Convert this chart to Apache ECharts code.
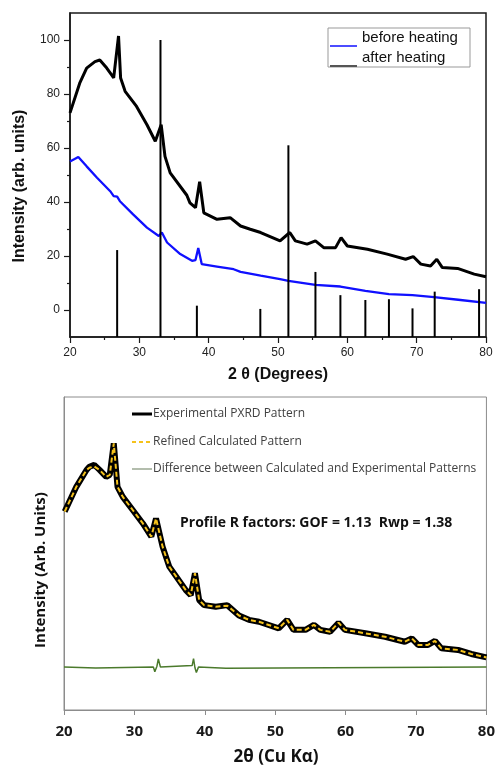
<!DOCTYPE html>
<html>
<head>
<meta charset="utf-8">
<script src="https://cdn.jsdelivr.net/npm/echarts@6/dist/echarts.min.js"></script>
<style>
  html, body { margin: 0; padding: 0; background: #fff; }
  #chart { width: 498px; height: 765px; }
</style>
</head>
<body>
<div id="chart"></div>
<script>
// top panel: 2θ vs intensity, before / after heating + reference sticks
const beforeHeating = [
  [20, 55], [21.2, 56.7], [22.4, 53.2], [23.9, 49], [25.8, 44], [26.3, 42.2], [26.8, 42],
  [27.2, 40.3], [29.1, 35.4], [31.1, 30.5], [32.8, 27.4], [33.25, 28.7], [34, 25],
  [35.9, 20.7], [37.6, 18.2], [38.1, 18.5], [38.5, 23], [39, 17], [41.2, 16.1], [43.6, 15.1],
  [44.6, 14.1], [47.5, 12.7], [50.3, 11.4], [51.5, 10.8], [55.4, 9.3], [59, 8.7],
  [62.6, 7.1], [66, 5.9], [69.4, 5.5], [72.5, 4.8], [76, 3.8], [80, 2.6]
];
const afterHeating = [
  [20, 73], [21.4, 84], [22.4, 89.6], [23.6, 92], [24.3, 92.6], [25.3, 89.6], [26.0, 87.1],
  [26.3, 86], [27.0, 101.5], [27.3, 85.9], [27.95, 81], [29.6, 75.4], [31.1, 68.6],
  [32.3, 62.5], [33.15, 68.6], [33.7, 56.9], [34.45, 50.8], [36.85, 42.5], [37.3, 39.7],
  [38.1, 37.9], [38.7, 47.5], [39.3, 36], [41.2, 33.6], [43.1, 34.2], [44.6, 31.1],
  [46, 29.9], [47.5, 28.7], [50.3, 25.6], [51.7, 28.7], [52.5, 25.6], [54.2, 24.4],
  [55.4, 25.6], [56.6, 23.1], [58.3, 23.1], [59.1, 26.8], [60, 23.7], [62.9, 22.5],
  [65.75, 20.7], [68.4, 18.8], [69.5, 19.8], [70.6, 17], [72, 16.3], [72.9, 18.8],
  [73.7, 15.7], [75.9, 15.4], [78.3, 13.3], [80, 12.3]
];
const refSticks = [
  [26.8, 22.2], [33.05, 100], [38.3, 1.6], [47.45, 0.4], [51.5, 61], [55.4, 14.1],
  [59.0, 5.5], [62.6, 3.7], [66.0, 4], [69.4, 0.6], [72.6, 6.8], [79.0, 7.7]
];
const topYMin = -10;
const topYMax = 110;
const topYLabels = [0, 20, 40, 60, 80, 100];
const topYMinor = [10, 30, 50, 70, 90];

// bottom panel: Rietveld fit (relative intensity)
const experimentalPattern = [
  [20.1, 63.4], [21.75, 71.3], [23.2, 76.7], [23.6, 77.7], [24.3, 78.3], [25.05, 76.7],
  [26, 74.5], [26.5, 75.1], [27.07, 85.2], [27.6, 71.3], [28.35, 68.1], [29.76, 63.9],
  [31.2, 59.6], [32.4, 55.4], [33.07, 61.2], [34.0, 52.2], [34.95, 45.8], [37.3, 38.3],
  [38.0, 36.7], [38.6, 43.7], [39.2, 35.1], [39.9, 33.5], [41.55, 33.0], [43.2, 33.5],
  [44.85, 30.2], [46.26, 28.8], [47.7, 28.2], [50.5, 26.1], [51.7, 28.8], [52.6, 25.6],
  [54.3, 25.6], [55.5, 27.2], [56.4, 25.6], [57.8, 25], [59.0, 27.9], [59.9, 25.6],
  [62.8, 24.5], [65.6, 23.4], [68.4, 21.8], [69.4, 22.9], [70.3, 20.8], [71.7, 20.8],
  [72.7, 22.1], [73.6, 19.7], [75.97, 19.2], [77.85, 17.9], [80, 16.8]
];
const refinedPattern = [
  [20.1, 63.4], [21.75, 71.3], [23.2, 76.7], [23.6, 77.4], [24.3, 77.8], [25.05, 76.7],
  [26, 74.5], [26.5, 75.1], [27.07, 85.2], [27.6, 71.3], [28.35, 68.1], [29.76, 63.9],
  [31.2, 59.6], [32.4, 55.4], [33.07, 61.2], [34.0, 52.2], [34.95, 45.8], [37.3, 38.3],
  [38.0, 36.7], [38.6, 43.7], [39.2, 35.1], [39.9, 33.5], [41.55, 33.0], [43.2, 33.3],
  [44.85, 30.2], [46.26, 28.8], [47.7, 28.2], [50.5, 26.1], [51.7, 28.8], [52.6, 25.6],
  [54.3, 25.6], [55.5, 27.2], [56.4, 25.6], [57.8, 25], [59.0, 27.9], [59.9, 25.6],
  [62.8, 24.5], [65.6, 23.4], [68.4, 21.8], [69.4, 22.9], [70.3, 20.8], [71.7, 20.8],
  [72.7, 22.1], [73.6, 19.7], [75.97, 19.2], [77.85, 17.9], [80, 16.8]
];
const differencePattern = [
  [20, 13.7], [24.5, 13.4], [32.7, 13.7], [32.9, 12.2], [33.2, 14], [33.4, 16.3],
  [33.7, 13.7], [38.2, 14.2], [38.4, 16.4], [38.6, 13.5], [38.8, 12], [39.1, 13.7],
  [43, 13.3], [80, 13.7]
];

const myChart = echarts.init(document.getElementById('chart'));

myChart.setOption({
  animation: false,
  grid: [
    { left: 70, top: 13, width: 416, height: 324, show: true, borderColor: '#1a1a1a', borderWidth: 1.5 },
    { left: 64, top: 397, width: 424, height: 313, show: true, borderColor: '#8c8c8c', borderWidth: 1 }
  ],
  xAxis: [
    {
      gridIndex: 0, type: 'value', min: 20, max: 80, interval: 10,
      axisLine: { onZero: false, lineStyle: { color: '#1a1a1a', width: 1.5 } },
      axisTick: { length: 6, lineStyle: { color: '#1a1a1a', width: 1.2 } },
      minorTick: { show: true, splitNumber: 2, length: 3, lineStyle: { color: '#1a1a1a', width: 1.2 } },
      axisLabel: { margin: 10, fontSize: 12, color: '#222', fontFamily: 'Liberation Sans' },
      splitLine: { show: false }
    },
    {
      gridIndex: 1, type: 'value', min: 20, max: 80, interval: 10,
      axisLine: { onZero: false, lineStyle: { color: '#8c8c8c', width: 1 } },
      axisTick: { length: 5, lineStyle: { color: '#8c8c8c' } },
      axisLabel: { margin: 14, fontSize: 15, fontWeight: 'bold', color: '#1a1a1a', fontFamily: 'Open Sans' },
      splitLine: { show: false }
    }
  ],
  yAxis: [
    {
      gridIndex: 0, type: 'value', min: topYMin, max: topYMax,
      axisLine: { show: true, lineStyle: { color: '#1a1a1a', width: 1.5 } },
      axisTick: { show: true, length: 6, customValues: topYLabels, lineStyle: { color: '#1a1a1a', width: 1.2 } },
      axisLabel: { customValues: topYLabels, margin: 10, fontSize: 12, color: '#222', fontFamily: 'Liberation Sans' },
      splitLine: { show: false }
    },
    {
      gridIndex: 0, type: 'value', min: topYMin, max: topYMax, position: 'left',
      axisLine: { show: false },
      axisTick: { show: true, length: 3, customValues: topYMinor, lineStyle: { color: '#1a1a1a', width: 1.2 } },
      axisLabel: { show: false },
      splitLine: { show: false }
    },
    {
      gridIndex: 1, type: 'value', min: 0, max: 100,
      axisLine: { show: true, lineStyle: { color: '#8c8c8c' } },
      axisTick: { show: false },
      axisLabel: { show: false },
      splitLine: { show: false }
    }
  ],
  series: [
    {
      name: 'before heating', type: 'line', xAxisIndex: 0, yAxisIndex: 0,
      data: beforeHeating, showSymbol: false,
      lineStyle: { color: '#1010ff', width: 2.3 }
    },
    {
      name: 'after heating', type: 'line', xAxisIndex: 0, yAxisIndex: 0,
      data: afterHeating, showSymbol: false,
      lineStyle: { color: '#000', width: 3 }
    },
    {
      name: 'reference', type: 'custom', xAxisIndex: 0, yAxisIndex: 0,
      data: refSticks, encode: { x: 0, y: 1 }, z: 5,
      renderItem: function (params, api) {
        const x = api.value(0)
        const top = api.coord([x, api.value(1)])
        const base = api.coord([x, topYMin])
        return {
          type: 'line',
          shape: { x1: top[0], y1: top[1], x2: base[0], y2: base[1] },
          style: { stroke: '#000', lineWidth: 2 }
        }
      }
    },
    {
      name: 'Difference between Calculated and Experimental Patterns', type: 'line',
      xAxisIndex: 1, yAxisIndex: 2, data: differencePattern, showSymbol: false,
      lineStyle: { color: '#4b7a2c', width: 1.5 }
    },
    {
      name: 'Experimental PXRD Pattern', type: 'line', xAxisIndex: 1, yAxisIndex: 2,
      data: experimentalPattern, showSymbol: false,
      lineStyle: { color: '#000', width: 6 }
    },
    {
      name: 'Refined Calculated Pattern', type: 'line', xAxisIndex: 1, yAxisIndex: 2,
      data: refinedPattern, showSymbol: false,
      lineStyle: { color: '#f5c21b', width: 2, type: [5, 3] }
    }
  ],
  graphic: [
    // axis titles
    { type: 'text', x: 278, y: 375, style: { text: '2 θ (Degrees)', font: 'bold 16px "Liberation Sans"', fill: '#111', align: 'center', verticalAlign: 'middle' } },
    { type: 'text', x: 20, y: 186, rotation: Math.PI / 2, style: { text: 'Intensity (arb. units)', font: 'bold 16px "Liberation Sans"', fill: '#111', align: 'center', verticalAlign: 'middle' } },
    { type: 'text', x: 276, y: 757, style: { text: '2θ (Cu Kα)', font: 'bold 17px "Open Sans"', fill: '#111', align: 'center', verticalAlign: 'middle' } },
    { type: 'text', x: 41, y: 570, rotation: Math.PI / 2, style: { text: 'Intensity (Arb. Units)', font: 'bold 15px "Open Sans"', fill: '#111', align: 'center', verticalAlign: 'middle' } },
    // top legend
    { type: 'rect', shape: { x: 328, y: 28, width: 142, height: 39 }, style: { fill: '#fff', stroke: '#999', lineWidth: 1 }, z: 10 },
    { type: 'line', shape: { x1: 330, y1: 46, x2: 357, y2: 46 }, style: { stroke: '#1010ff', lineWidth: 1.5 }, z: 11 },
    { type: 'line', shape: { x1: 330, y1: 66, x2: 357, y2: 66 }, style: { stroke: '#555', lineWidth: 2 }, z: 11 },
    { type: 'text', x: 362, y: 38, style: { text: 'before heating', font: '15px "Liberation Sans"', fill: '#111', verticalAlign: 'middle' }, z: 11 },
    { type: 'text', x: 362, y: 58, style: { text: 'after heating', font: '15px "Liberation Sans"', fill: '#111', verticalAlign: 'middle' }, z: 11 },
    // bottom legend
    { type: 'line', shape: { x1: 132, y1: 414, x2: 152, y2: 414 }, style: { stroke: '#000', lineWidth: 3 } },
    { type: 'line', shape: { x1: 132, y1: 442, x2: 152, y2: 442 }, style: { stroke: '#f5c21b', lineWidth: 2, lineDash: [4, 3] } },
    { type: 'line', shape: { x1: 132, y1: 469, x2: 152, y2: 469 }, style: { stroke: '#8a9a80', lineWidth: 1.3 } },
    { type: 'text', x: 153, y: 414, style: { text: 'Experimental PXRD Pattern', font: '12px "Open Sans"', fill: '#404040', verticalAlign: 'middle' } },
    { type: 'text', x: 153, y: 442, style: { text: 'Refined Calculated Pattern', font: '12px "Open Sans"', fill: '#404040', verticalAlign: 'middle' } },
    { type: 'text', x: 153, y: 469, style: { text: 'Difference between Calculated and Experimental Patterns', font: '12px "Open Sans"', fill: '#404040', verticalAlign: 'middle' } },
    { type: 'text', x: 180, y: 523, style: { text: 'Profile R factors: GOF = 1.13  Rwp = 1.38', font: 'bold 14px "Open Sans"', fill: '#111', verticalAlign: 'middle' } }
  ]
})
</script>
</body>
</html>
